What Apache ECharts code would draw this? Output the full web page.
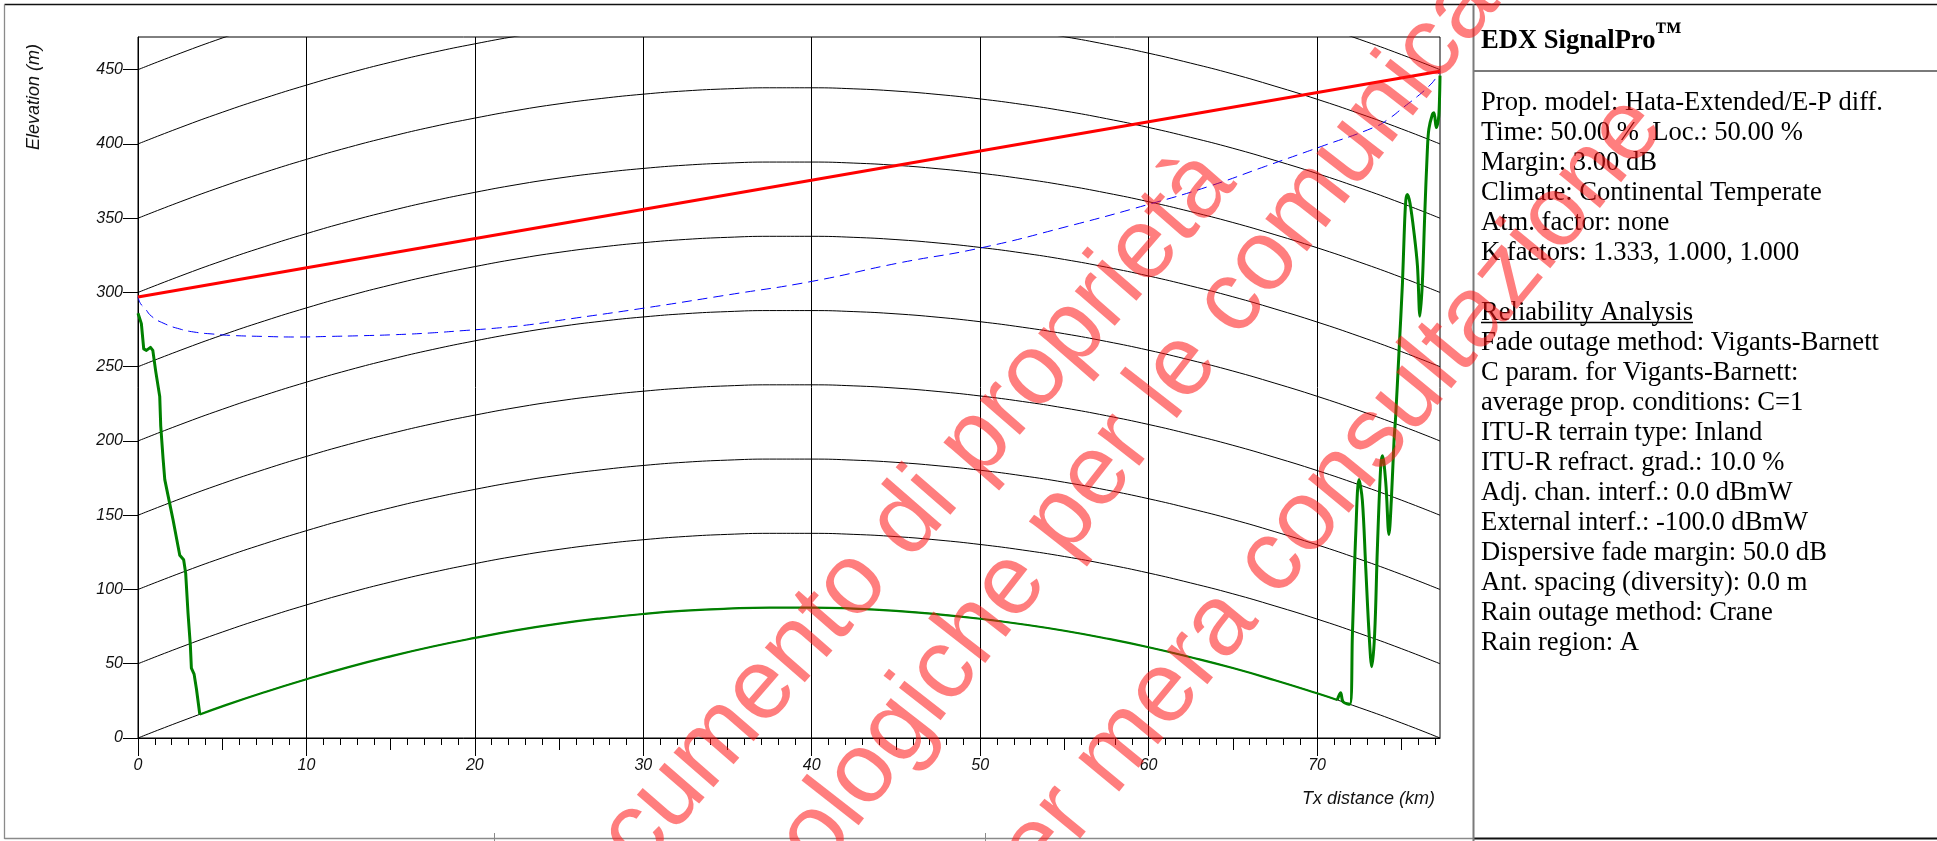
<!DOCTYPE html>
<html>
<head>
<meta charset="utf-8">
<title>EDX SignalPro - Path profile</title>
<script src="https://cdn.jsdelivr.net/npm/echarts@6/dist/echarts.min.js"></script>
<style>
  html, body { margin: 0; padding: 0; background: #ffffff; }
  #chart { width: 1937px; height: 841px; }
</style>
</head>
<body>
<div id="chart"></div>
<script>
// ---- Earth-curvature reference curves (k = 4/3), distance in km, height in m
const curveKm = [0, 2.5, 5, 7.5, 10, 12.5, 15, 17.5, 20, 22.5, 25, 27.5, 30, 32.5, 35, 37.5,
                 40, 42.5, 45, 47.5, 50, 52.5, 55, 57.5, 60, 62.5, 65, 67.5, 70, 72.5, 75, 77.3];
const bulgeM  = [0, 11.0, 21.3, 30.8, 39.6, 47.7, 55.0, 61.6, 67.4, 72.6, 77.0, 80.6, 83.5, 85.7, 87.1, 87.8,
                 87.8, 87.1, 85.6, 83.3, 80.3, 76.6, 72.2, 67.0, 61.1, 54.4, 47.1, 38.9, 30.1, 20.5, 10.2, 0];
const curveOffsets = [0, 50, 100, 150, 200, 250, 300, 350, 400, 450];

// ---- Terrain profile (plotted height over the curved earth)
const coastKm = [0, 0.2, 0.34, 0.5, 0.74, 0.88, 1.05, 1.29, 1.35, 1.49, 1.59, 1.88, 2.08, 2.38, 2.48,
                 2.71, 2.83, 2.97, 3.11, 3.17, 3.33, 3.47, 3.67];
const coastM  = [286, 279, 262, 261, 263, 261, 247, 230, 210, 188, 174, 158, 147, 129, 123,
                 120, 111, 84, 62, 47, 43, 33, 15.8];

const seaKm = [3.67, 5, 7.5, 10, 12.5, 15, 17.5, 20, 22.5, 25, 27.5, 30, 32.5, 35, 37.5, 40, 42.5,
               45, 47.5, 50, 52.5, 55, 57.5, 60, 62.5, 65, 67.5, 70, 71.2];
const seaM  = [15.8, 21.3, 30.8, 39.6, 47.7, 55.0, 61.6, 67.4, 72.6, 77.0, 80.6, 83.5, 85.7, 87.1, 87.8, 87.8, 87.1,
               85.6, 83.3, 80.3, 76.6, 72.2, 67.0, 61.1, 54.4, 47.1, 38.9, 30.1, 25.6];

const ridgeKm = [71.2, 71.4, 71.55, 71.95, 72.1, 72.3, 72.49, 72.69, 72.89, 73.09, 73.25, 73.42, 73.58,
                 73.78, 73.88, 74.08, 74.27, 74.41, 74.57, 74.67, 74.87, 75.07, 75.17, 75.27, 75.37,
                 75.52, 75.76, 75.96, 76.11, 76.25, 76.39, 76.55, 76.64, 76.85, 76.94, 77.08, 77.23, 77.3];
const ridgeM  = [25.6, 30.5, 24.3, 22.7, 70, 138, 174, 160, 115, 70, 48, 70, 127,
                 183, 190, 172, 137, 160, 200, 217, 261, 306, 338, 362, 366,
                 360, 340, 318, 284, 306, 351, 396, 410, 420, 421, 411, 419, 446];

// ---- Line of sight and Fresnel clearance
const losKm = [0, 77.3];
const losM  = [297, 449];

const fresnelKm = [0, 0.15, 0.4, 0.8, 1.49, 2.48, 3.47, 4.45, 5.45, 7.42, 9.41, 11.38, 13.36, 15.34,
                   17.32, 19.3, 21.28, 23.26, 25.2, 30.07, 35.1, 40.03, 45.15, 50, 55.2, 60.06, 63.57,
                   66.93, 70.28, 73.43, 74.27, 75.17, 75.96, 76.65, 77.0, 77.3];
const fresnelM  = [297, 292.5, 289.5, 284, 279.4, 275.4, 273.1, 272, 271.1, 270.4, 270, 270.4, 270.9, 271.6,
                   272.7, 274.3, 276, 278.3, 281.5, 289.5, 298.5, 307.5, 319.8, 329.9, 344.5, 359.5, 371.4,
                   384.9, 398.4, 411.4, 417, 425, 432, 439, 443.5, 449];

// ---- Axis ticks
const yTicks = [0, 50, 100, 150, 200, 250, 300, 350, 400, 450];
const xMajorTicks = [0, 10, 20, 30, 40, 50, 60, 70];
const xMidTicks = [5, 15, 25, 35, 45, 55, 65, 75];
const xMinorTicks = [];
for (let k = 1; k <= 77; k++) { if (k % 5 !== 0) xMinorTicks.push(k); }

// ---- Side panel
const panelTitle = 'EDX SignalPro';
const panelMark = '\u2122';
const panelLines = [
  'Prop. model: Hata-Extended/E-P diff.',
  'Time: 50.00 %  Loc.: 50.00 %',
  'Margin: 3.00 dB',
  'Climate: Continental Temperate',
  'Atm. factor: none',
  'K factors: 1.333, 1.000, 1.000',
  '',
  'Reliability Analysis',
  'Fade outage method: Vigants-Barnett',
  'C param. for Vigants-Barnett:',
  'average prop. conditions: C=1',
  'ITU-R terrain type: Inland',
  'ITU-R refract. grad.: 10.0 %',
  'Adj. chan. interf.: 0.0 dBmW',
  'External interf.: -100.0 dBmW',
  'Dispersive fade margin: 50.0 dB',
  'Ant. spacing (diversity): 0.0 m',
  'Rain outage method: Crane',
  'Rain region: A'
];
const underlinedLine = 'Reliability Analysis';

// ---- Watermark (anchor point, alignment and slant of each line)
const watermarkLines = [
  { text: 'Documento di propriet\u00e0', x: 1217, y: 166, align: 'right', deg: 49 },
  { text: 'Tecnologiche per le ', x: 1216, y: 323, align: 'right', deg: 52 },
  { text: 'comunicazioni', x: 1216, y: 323, align: 'left', deg: 52 },
  { text: 'per mera consultazione', x: 1645, y: 110, align: 'right', deg: 50.5 }
];

const toPairs = (xs, ys) => xs.map((x, i) => [x, ys[i]]);

const sansAxis = '"Liberation Sans", Arial, sans-serif';
const serif = '"Liberation Serif", "Times New Roman", serif';

// Text is drawn on its "middle" line; work out how far that sits above the baseline.
const measureCtx = document.createElement('canvas').getContext('2d');
function middleAboveBaseline(font) {
  measureCtx.font = font;
  measureCtx.textBaseline = 'alphabetic';
  const a = measureCtx.measureText('H').actualBoundingBoxAscent;
  measureCtx.textBaseline = 'middle';
  const b = measureCtx.measureText('H').actualBoundingBoxAscent;
  return a - b;
}
function inkAboveMiddle(font, s) {
  measureCtx.font = font;
  measureCtx.textBaseline = 'middle';
  return measureCtx.measureText(s).actualBoundingBoxAscent;
}

const labelStyle = {
  fontStyle: 'italic', fontSize: 16, fontFamily: sansAxis, color: '#111'
};

const series = [];
curveOffsets.forEach(off => {
  series.push({
    type: 'line', xAxisIndex: 0, yAxisIndex: 0,
    data: curveKm.map((d, i) => [d, bulgeM[i] + off]),
    smooth: true, symbol: 'none', silent: true, z: 1,
    lineStyle: { color: '#000', width: 1 }
  });
});
series.push({
  type: 'line', data: toPairs(fresnelKm, fresnelM), smooth: true, symbol: 'none', silent: true, z: 3,
  lineStyle: { color: '#0000ff', width: 1, type: [10, 6] }
});
series.push({
  type: 'line', data: toPairs(losKm, losM), symbol: 'none', silent: true, z: 4,
  lineStyle: { color: '#ff0000', width: 3 }
});
series.push({
  type: 'line', data: toPairs(coastKm, coastM), symbol: 'none', silent: true, z: 5,
  lineStyle: { color: '#008000', width: 3, join: 'round' }
});
series.push({
  type: 'line', data: toPairs(seaKm, seaM), smooth: true, symbol: 'none', silent: true, z: 5,
  lineStyle: { color: '#008000', width: 2.2 }
});
series.push({
  type: 'line', data: toPairs(ridgeKm, ridgeM), smooth: 0.35, symbol: 'none', silent: true, z: 5,
  lineStyle: { color: '#008000', width: 3, join: 'round' }
});

const graphics = [];
// outer frame and panel rules
const rule = (x1, y1, x2, y2, color, w) => ({
  type: 'line', silent: true, z: 50,
  shape: { x1, y1, x2, y2 }, style: { stroke: color, lineWidth: w }
});
graphics.push(rule(4.5, 4.5, 1937, 4.5, '#111', 1.3));
graphics.push(rule(4.5, 4.5, 4.5, 839, '#8a8a8a', 1.3));
graphics.push(rule(4.5, 838.5, 1473.5, 838.5, '#8a8a8a', 1.5));
graphics.push(rule(1473.5, 838.5, 1937, 838.5, '#111', 2));
graphics.push(rule(1473.5, 4.5, 1473.5, 841, '#7a7a7a', 2));
graphics.push(rule(1473.5, 71, 1937, 71, '#7a7a7a', 2));
graphics.push(rule(494.5, 833, 494.5, 841, '#8a8a8a', 1));
graphics.push(rule(985.5, 833, 985.5, 841, '#8a8a8a', 1));

// axis names
graphics.push({
  type: 'text', silent: true, z: 50, x: 34, y: 97, rotation: Math.PI / 2,
  style: { text: 'Elevation (m)', fill: '#111', font: 'italic 18px ' + sansAxis, align: 'center', verticalAlign: 'middle' }
});
graphics.push({
  type: 'text', silent: true, z: 50, x: 1435, y: 799,
  style: { text: 'Tx distance (km)', fill: '#111', font: 'italic 18px ' + sansAxis, align: 'right', verticalAlign: 'middle' }
});

// panel title
const titleFont = 'bold 26.6px ' + serif;
const bodyFont = '26.6px ' + serif;
const titleMid = middleAboveBaseline(titleFont);
const bodyMid = middleAboveBaseline(bodyFont);
graphics.push({
  type: 'text', silent: true, z: 50, x: 1481, y: 47.7 - titleMid,
  style: { text: panelTitle, fill: '#000', font: titleFont, align: 'left', verticalAlign: 'middle' }
});
graphics.push({
  type: 'text', silent: true, z: 50, x: 1655, y: 21.7 + inkAboveMiddle(titleFont, panelMark),
  style: { text: panelMark, fill: '#000', font: titleFont, align: 'left', verticalAlign: 'middle' }
});
// panel body
panelLines.forEach((line, i) => {
  if (!line) return;
  const base = 110 + 30 * i;
  graphics.push({
    type: 'text', silent: true, z: 50, x: 1481, y: base - bodyMid,
    style: { text: line, fill: '#000', font: bodyFont, align: 'left', verticalAlign: 'middle' }
  });
  if (line === underlinedLine) {
    measureCtx.font = bodyFont;
    const w = measureCtx.measureText(line).width;
    graphics.push(rule(1481, base + 2.5, 1481 + w, base + 2.5, '#000', 1.4));
  }
});

// watermark
watermarkLines.forEach(w => {
  graphics.push({
    type: 'text', silent: true, z: 100, x: w.x, y: w.y, rotation: w.deg * Math.PI / 180,
    style: {
      text: w.text, fill: 'rgba(255, 20, 20, 0.55)', font: '100px ' + sansAxis,
      align: w.align, verticalAlign: 'middle'
    }
  });
});

const chart = echarts.init(document.getElementById('chart'), null, { renderer: 'canvas' });
chart.setOption({
  animation: false,
  backgroundColor: '#ffffff',
  grid: {
    left: 138, top: 37, right: 497, bottom: 103,
    show: true, borderColor: '#000', borderWidth: 1, backgroundColor: 'transparent'
  },
  xAxis: [
    {
      type: 'value', min: 0, max: 77.3, interval: 10, position: 'bottom',
      axisLine: { show: true, onZero: false, lineStyle: { color: '#000', width: 1 } },
      axisTick: { show: true, length: 18, customValues: xMajorTicks, lineStyle: { color: '#000', width: 1 } },
      axisLabel: Object.assign({ customValues: xMajorTicks, margin: 20 }, labelStyle),
      splitLine: { show: true, lineStyle: { color: '#000', width: 1 } }
    },
    {
      type: 'value', min: 0, max: 77.3, interval: 10, position: 'bottom',
      axisLine: { show: false, onZero: false },
      axisTick: { show: true, length: 12, customValues: xMidTicks, lineStyle: { color: '#000', width: 1 } },
      axisLabel: { show: false }, splitLine: { show: false }
    },
    {
      type: 'value', min: 0, max: 77.3, interval: 10, position: 'bottom',
      axisLine: { show: false, onZero: false },
      axisTick: { show: true, length: 7, customValues: xMinorTicks, lineStyle: { color: '#000', width: 1 } },
      axisLabel: { show: false }, splitLine: { show: false }
    }
  ],
  yAxis: {
    type: 'value', min: 0, max: 472, interval: 50,
    axisLine: { show: true, onZero: false, lineStyle: { color: '#000', width: 1 } },
    axisTick: { show: true, length: 15, customValues: yTicks, lineStyle: { color: '#000', width: 1 } },
    axisLabel: Object.assign({ customValues: yTicks, margin: 15 }, labelStyle),
    splitLine: { show: false }
  },
  series: series,
  graphic: { elements: graphics }
});
</script>
</body>
</html>
